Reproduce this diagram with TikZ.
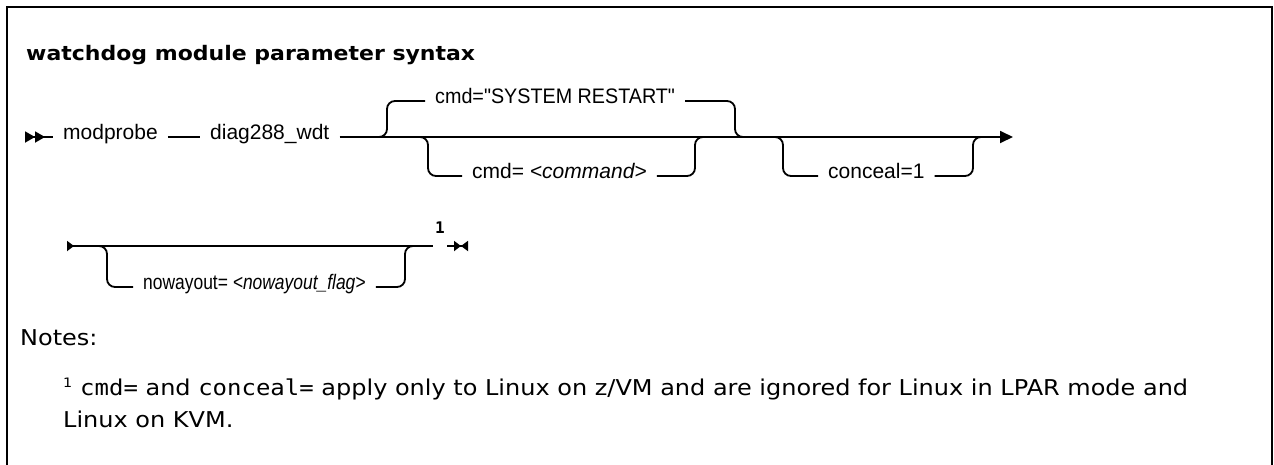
\documentclass[tikz,border=0pt]{standalone}
\usepackage{fontspec}
\setmainfont{Liberation Sans}
\newfontfamily\notefont{DejaVu Sans}[FakeStretch=1.1]
\newfontfamily\codefont{DejaVu Sans Mono}[FakeStretch=1.1]
\newfontfamily\markfont{DejaVu Sans Mono}
\usetikzlibrary{arrows.meta}

\begin{document}
\begin{tikzpicture}[x=1pt, y=-1pt,
  rail/.style={line width=1.8pt, rounded corners=8pt},
  tok/.style={font=\fontsize{21}{25}\selectfont, inner xsep=10pt, inner ysep=0pt, anchor=mid west},
  note/.style={font=\notefont\fontsize{21.8}{25}\selectfont, anchor=base west, inner sep=0pt}
]
\useasboundingbox (0,0) rectangle (1274,464);
\draw[line width=2.5pt] (7,470) -- (7,7) -- (1272,7) -- (1272,470);

\node[font=\notefont\bfseries\fontsize{20}{24}\selectfont, anchor=base west, inner sep=0pt] (title) at (26,60) {watchdog module parameter syntax};

% first row
\coordinate (r1s) at (25,137);
\node[tok] (mp)   at (53,137)  {modprobe};
\node[tok] (diag) at (200,137) {diag288\_wdt};
\node[tok] (sys)  at (425,101) {\scalebox{0.94}[1]{cmd=\textquotedbl SYSTEM RESTART\textquotedbl}};
\node[tok] (cmdn) at (462,176) {cmd= \textit{<command>}};
\node[tok] (conc) at (818,176) {conceal=1};
\coordinate (r1e) at (1013,137);
\coordinate (a1) at (379,137);
\coordinate (b1) at (735,137);
\coordinate (a2) at (420,137);
\coordinate (b2) at (695,137);
\coordinate (a3) at (775,137);
\coordinate (b3) at (973,137);

\draw[rail, {Triangle[reversed,length=10pt,width=11pt]Triangle[reversed,length=10pt,width=11pt]}-] (r1s) -- (mp.mid west);
\draw[rail] (mp.mid east) -- (diag.mid west);
\draw[rail, -{Triangle[length=13pt,width=12pt]}] (diag.mid east) -- (r1e);
\draw[rail] (a1) -- ++(8,0) |- (sys.mid west);
\draw[rail] (sys.mid east) -| (b1) -- ++(8,0);
\draw[rail] (a2) -- ++(8,0) |- (cmdn.mid west);
\draw[rail] (cmdn.mid east) -| (b2) -- ++(8,0);
\draw[rail] (a3) -- ++(8,0) |- (conc.mid west);
\draw[rail] (conc.mid east) -| (b3) -- ++(8,0);

% second row
\coordinate (r2s) at (67,246);
\node[tok] (now) at (133,287) {\scalebox{0.83}[1]{nowayout= \textit{<nowayout\_flag>}}};
\coordinate (r2e) at (433,246);
\coordinate (a4) at (99,246);
\coordinate (b4) at (405,246);
\node[font=\markfont\bfseries\fontsize{16}{18}\selectfont, inner sep=0pt, anchor=base] (fn) at (440,233) {1};
\coordinate (r2x) at (447,246);
\coordinate (r2z) at (468,246);

\draw[rail, {Triangle[reversed,length=7pt,width=10pt]}-] (r2s) -- (r2e);
\draw[rail] (a4) -- ++(8,0) |- (now.mid west);
\draw[rail] (now.mid east) -| (b4) -- ++(8,0);
\draw[rail, -{Triangle[length=7pt,width=10pt]Triangle[reversed,length=7pt,width=10pt]}] (r2x) -- (r2z);

% notes
\node[note] (notes) at (20,345) {Notes:};
\node[note, font=\notefont\fontsize{13}{15}\selectfont] (fnmark) at (63,387) {1};
\node[note] (line1) at (80,395) {{\codefont cmd=} and {\codefont conceal=} apply only to Linux on z/VM and are ignored for Linux in LPAR mode and};
\node[note] (line2) at (63,427) {Linux on KVM.};
\end{tikzpicture}
\end{document}
